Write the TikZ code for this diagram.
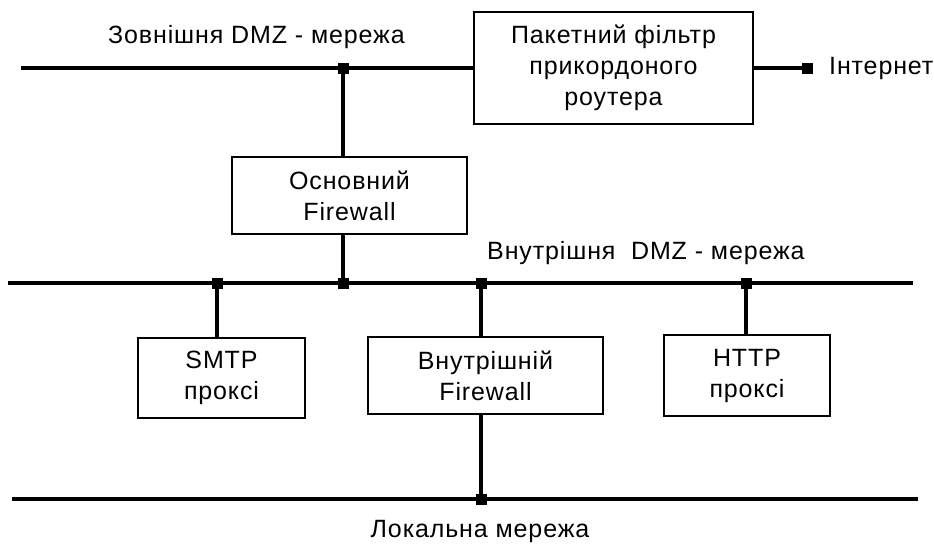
\documentclass[tikz,border=0pt]{standalone}
\usepackage{fontspec}
\setmainfont{Liberation Sans}
\newfontfamily\labfont[LetterSpace=3.5]{Liberation Sans}
\begin{document}
\begin{tikzpicture}[x=1pt,y=-1pt,
  box/.style={draw, line width=1.3pt, inner sep=0pt, align=center,
    font=\labfont\fontsize{25}{31}\selectfont},
  net/.style={line width=4pt},
  link/.style={line width=4pt},
  junc/.style={fill=black, inner sep=0pt, minimum size=11pt},
  lbl/.style={font=\labfont\fontsize{25}{30}\selectfont, inner sep=0pt}]
\useasboundingbox (0,0) rectangle (934,550);
% boxes
\node[box, minimum width=279pt, minimum height=112pt] (pf) at (613.5,68) {Пакетний фільтр\\прикордоного\\роутера};
\node[box, minimum width=235pt, minimum height=77pt] (main) at (349.5,195.5) {Основний\\Firewall};
\node[box, minimum width=167pt, minimum height=80pt] (smtp) at (221.5,378) {SMTP\\проксі};
\node[box, minimum width=235pt, minimum height=77pt] (inner) at (485.5,375.5) {Внутрішній\\Firewall};
\node[box, minimum width=166pt, minimum height=81pt] (http) at (747,375.5) {HTTP\\проксі};
% network ends
\coordinate (t0) at (21,68);
\coordinate (m0) at (8,283);
\coordinate (m1) at (913,283);
\coordinate (b0) at (12,499);
\coordinate (b1) at (918,499);
% junctions
\node[junc] (j1) at (343,68) {};
\node[junc] (inet) at (807.5,68) {};
\node[junc] (j2) at (343,283) {};
\node[junc] (j3) at (217,283) {};
\node[junc] (j4) at (481,283) {};
\node[junc] (j5) at (746,283) {};
\node[junc] (j6) at (481,499) {};
% lines
\draw[net] (t0) -- (t0 -| pf.west);
\draw[net] (inet.center -| pf.east) -- (inet.center);
\draw[net] (m0) -- (m1);
\draw[net] (b0) -- (b1);
\draw[link] (j1.center) -- (j1 |- main.north);
\draw[link] (j1 |- main.south) -- (j2.center);
\draw[link] (j3.center) -- (j3 |- smtp.north);
\draw[link] (j4.center) -- (j4 |- inner.north);
\draw[link] (j5.center) -- (j5 |- http.north);
\draw[link] (j6 |- inner.south) -- (j6.center);
% labels
\node[lbl, anchor=west] (lext) at (108,37) {Зовнішня DMZ - мережа};
\node[lbl, anchor=west] (lint) at (487,253) {Внутрішня\ \ DMZ - мережа};
\node[lbl] (lloc) at (480,531) {Локальна мережа};
\node[lbl, anchor=west] (linet) at (829,68) {Інтернет};
\end{tikzpicture}
\end{document}
